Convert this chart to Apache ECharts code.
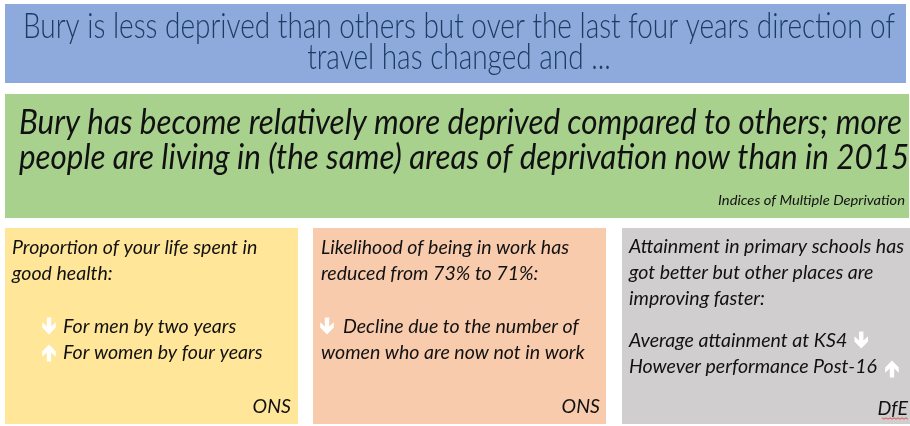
<!DOCTYPE html>
<html><head><meta charset="utf-8">
<script src="https://cdn.jsdelivr.net/npm/echarts@6/dist/echarts.min.js"></script>
<style>html,body{margin:0;padding:0;background:#fff}#c{width:910px;height:426px}</style>
</head><body><div id="c"></div>
<script>
var headlineLines = ["Bury is less deprived than others but over the last four years direction of", "travel has changed and ..."];
var mainLines = ["Bury has become relatively more deprived compared to others; more", "people are living in (the same) areas of deprivation now than in 2015"];
var mainSource = "Indices of Multiple Deprivation";
var healthLines = ["Proportion of your life spent in", "good health:"];
var healthPoints = ["For men by two years", "For women by four years"];
var healthArrows = ["down", "up"];
var workLines = ["Likelihood of being in work has", "reduced from 73% to 71%:"];
var workPoints = ["Decline due to the number of", "women who are now not in work"];
var workArrows = ["down"];
var schoolLines = ["Attainment in primary schools has", "got better but other places are", "improving faster:"];
var schoolPoints = ["Average attainment at KS4", "However performance Post-16"];
var schoolArrows = ["down", "up"];
var sources = ["ONS", "ONS", "DfE"];

var chart = echarts.init(document.getElementById('c'), null, {renderer: 'canvas'});
var FAM = 'Lato,"Open Sans","Noto Sans",sans-serif';
var ctx = document.createElement('canvas').getContext('2d');
function measure(t, font) { ctx.font = font; return ctx.measureText(t).width; }
function fitScale(t, font, target) { return target / measure(t, font); }

var g = [];
function rect(x, y, w, h, c) { g.push({type: 'rect', shape: {x: x, y: y, width: w, height: h}, style: {fill: c}, z: 1}); }
function txt(t, x, y, font, fill, align, sx) {
  g.push({type: 'text', x: x, y: y, z: 3, scaleX: sx || 1,
    style: {text: t, font: font, fill: fill, align: align || 'left', verticalAlign: 'middle'}});
}
function arrow(dir, x, y) {
  var pts = dir === 'down'
    ? [[-2.2, -8.5], [2.2, -8.5], [2.2, 0.5], [6.8, -3.8], [6.8, 1.6], [0, 8.5], [-6.8, 1.6], [-6.8, -3.8], [-2.2, 0.5]]
    : [[-2.2, 8.5], [2.2, 8.5], [2.2, -0.5], [6.8, 3.8], [6.8, -1.6], [0, -8.5], [-6.8, -1.6], [-6.8, 3.8], [-2.2, -0.5]];
  g.push({type: 'polygon', x: x, y: y, z: 4, shape: {points: pts}, style: {fill: '#ffffff'}});
}

rect(5, 4, 901, 79, '#8EA9DB');
rect(5, 94, 904, 124, '#A9D18E');
rect(5, 228, 293, 196, '#FFE699');
rect(313, 228, 293, 196, '#F8CBAD');
rect(622, 228, 288, 196, '#D0CECE');

// headline
var HF = '300 35px ' + FAM;
var hs = fitScale(headlineLines[0], HF, 872);
txt(headlineLines[0], 23, 27, HF, '#1B3D62', 'left', hs);
var w2 = measure(headlineLines[1], HF) * hs;
txt(headlineLines[1], 459 - w2 / 2, 58, HF, '#1B3D62', 'left', hs);

// main statement
var MF = 'italic 400 35px ' + FAM;
var ms = fitScale(mainLines[0], MF, 883);
txt(mainLines[0], 19, 123, MF, '#111111', 'left', ms);
txt(mainLines[1], 19, 158, MF, '#111111', 'left', ms);
var SF = 'italic 14px ' + FAM;
txt(mainSource, 905, 200, SF, '#111111', 'right', fitScale(mainSource, SF, 187));

// bottom boxes
var BF = 'italic 19px ' + FAM;
var bs = fitScale(schoolLines[0], BF, 275);
var C = '#111111';
txt(healthLines[0], 12, 248, BF, C, 'left', bs);
txt(healthLines[1], 12, 274, BF, C, 'left', bs);
txt(healthPoints[0], 63, 327, BF, C, 'left', bs);
txt(healthPoints[1], 63, 353, BF, C, 'left', bs);
arrow(healthArrows[0], 49, 326);
arrow(healthArrows[1], 49, 353);
txt(sources[0], 291, 407, BF, C, 'right', bs);

txt(workLines[0], 321, 248, BF, C, 'left', bs);
txt(workLines[1], 321, 274, BF, C, 'left', bs);
txt(workPoints[0], 343, 327, BF, C, 'left', bs);
arrow(workArrows[0], 327, 326);
txt(workPoints[1], 321, 353, BF, C, 'left', bs);
txt(sources[1], 600, 407, BF, C, 'right', bs);

txt(schoolLines[0], 629, 247, BF, C, 'left', bs);
txt(schoolLines[1], 629, 273, BF, C, 'left', bs);
txt(schoolLines[2], 629, 299, BF, C, 'left', bs);
txt(schoolPoints[0], 629, 341, BF, C, 'left', bs);
txt(schoolPoints[1], 629, 367, BF, C, 'left', bs);
var a1 = 629 + measure(schoolPoints[0], BF) * bs + 14;
var a2 = 629 + measure(schoolPoints[1], BF) * bs + 15;
arrow(schoolArrows[0], a1, 340);
arrow(schoolArrows[1], a2, 369);
txt(sources[2], 908, 409, BF, C, 'right', bs);
// spell-check squiggle under DfE
var sq = [];
for (var i = 0; i <= 13; i++) sq.push([882 + i * 2, 418 + (i % 2 ? 1.2 : -0.2)]);
g.push({type: 'polyline', z: 4, shape: {points: sq}, style: {stroke: '#E0312F', lineWidth: 0.8, fill: null}});

chart.setOption({animation: false, graphic: {elements: g}});
</script></body></html>
